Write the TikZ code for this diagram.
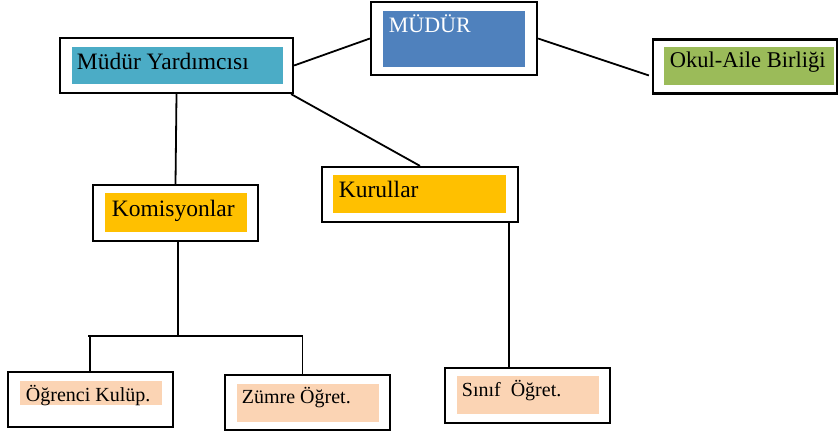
\documentclass[tikz,border=0pt]{standalone}
\usepackage{fontspec}
\setmainfont{Liberation Serif}
\usetikzlibrary{calc}
\definecolor{mudurblue}{HTML}{4F81BD}
\definecolor{yardteal}{HTML}{4BACC6}
\definecolor{okulgreen}{HTML}{9BBB59}
\definecolor{kuruloran}{HTML}{FFC000}
\definecolor{altpeach}{HTML}{FBD4B4}
\begin{document}
\begin{tikzpicture}[x=1pt,y=-1pt,line width=1.8pt]
	\def \bigfont{\fontsize{23.5}{26}\selectfont}
	\def \smallfont{\fontsize{20}{23}\selectfont}
	\tikzstyle{frame}=[draw=black,line width=2.2pt,inner sep=0pt]
	\tikzstyle{fillbox}=[inner sep=0pt]
	\tikzstyle{bigtext}=[font=\bigfont,inner sep=0pt,anchor=base west]
	\tikzstyle{smalltext}=[font=\smallfont,inner sep=0pt,anchor=base west]
	\useasboundingbox (0,0) rectangle (840,434);

	% top row
	\node[frame,minimum width=166,minimum height=73] (mudur) at (454,38.5) {};
	\node[fillbox,fill=mudurblue,minimum width=142,minimum height=56] (mudurin) at (454,39) {};
	\node[bigtext,text=white,font=\fontsize{22}{24}\selectfont] (mudurlbl) at (388,32) {MÜDÜR};

	\node[frame,minimum width=233,minimum height=55] (yard) at (176.5,65.5) {};
	\node[fillbox,fill=yardteal,minimum width=211,minimum height=37] (yardin) at (177.5,65.5) {};
	\node[bigtext] (yardlbl) at (76,69) {Müdür Yardımcısı};

	\node[frame,minimum width=184,minimum height=54] (okul) at (745,66.5) {};
	\node[fillbox,fill=okulgreen,minimum width=170,minimum height=38] (okulin) at (749,66) {};
	\node[bigtext,font=\fontsize{22.5}{25}\selectfont] (okullbl) at (669,67) {Okul-Aile Birliği};

	% middle row
	\node[frame,minimum width=165,minimum height=56] (komis) at (175.5,213) {};
	\node[fillbox,fill=kuruloran,minimum width=142,minimum height=39] (komisin) at (176,212.5) {};
	\node[bigtext] (komislbl) at (111,216) {Komisyonlar};

	\node[frame,minimum width=196,minimum height=55] (kurul) at (420,194.5) {};
	\node[fillbox,fill=kuruloran,minimum width=173,minimum height=38] (kurulin) at (419.5,194) {};
	\node[bigtext] (kurullbl) at (338,197) {Kurullar};

	% bottom row
	\node[frame,minimum width=165,minimum height=55] (ogr) at (90.5,399.5) {};
	\node[fillbox,fill=altpeach,minimum width=142,minimum height=24] (ogrin) at (91,393) {};
	\node[smalltext] (ogrlbl) at (25,401) {Öğrenci Kulüp.};

	\node[frame,minimum width=165,minimum height=55] (zumre) at (307.5,402.5) {};
	\node[fillbox,fill=altpeach,minimum width=142,minimum height=38] (zumrein) at (308,403) {};
	\node[smalltext] (zumrelbl) at (241,403) {Zümre Öğret.};

	\node[frame,minimum width=165,minimum height=55] (sinif) at (527.5,395.5) {};
	\node[fillbox,fill=altpeach,minimum width=142,minimum height=38] (sinifin) at (528,395) {};
	\node[smalltext] (siniflbl) at (461,396) {Sınıf~ Öğret.};

	% bus
	\coordinate (busl) at (88,336);
	\coordinate (busr) at (303,336);

	\draw (yard.east) -- (mudur.west);
	\draw (mudur.east) -- ([xshift=-3pt,yshift=-9pt]okul.west);
	\draw ([xshift=-3pt]yard.south east) -- (kurul.north);
	\draw (yard.south) -- (komis.north);
	\draw ([xshift=2.5pt]komis.south) -- ([xshift=2.5pt]komis.south |- busl);
	\draw (busl) -- (busr);
	\draw ([xshift=-0.5pt]ogr.north |- busl) -- ([xshift=-0.5pt]ogr.north);
	\draw ([xshift=-5pt]zumre.north |- busr) -- ([xshift=-5pt]zumre.north);
	\draw ([xshift=-10pt]kurul.south east) -- ([xshift=-10pt]kurul.south east |- sinif.north);
\end{tikzpicture}
\end{document}
